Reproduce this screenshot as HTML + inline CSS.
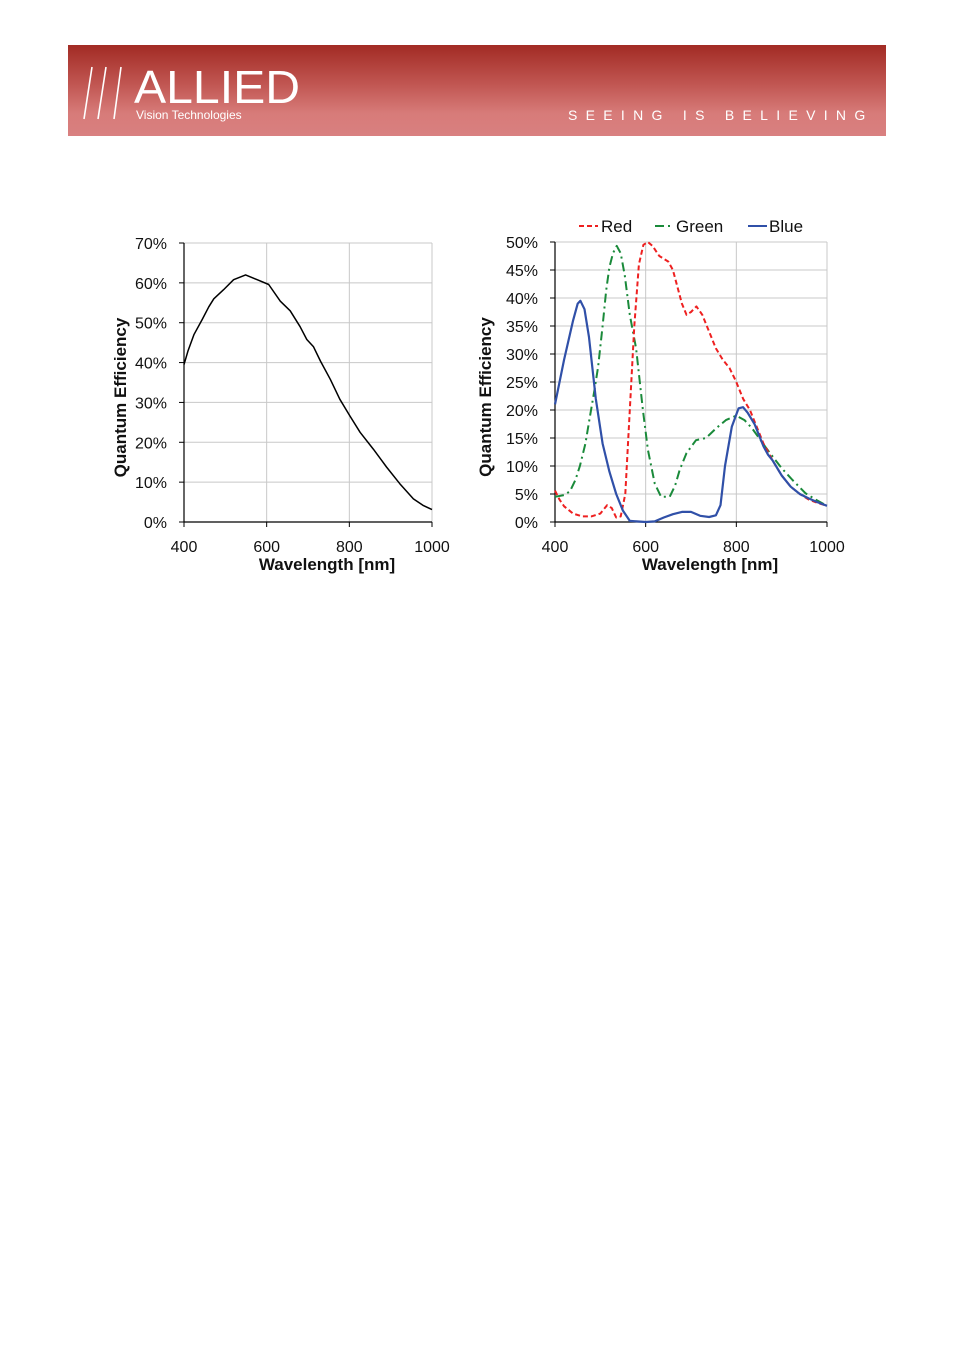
<!DOCTYPE html>
<html><head><meta charset="utf-8">
<style>
body{margin:0;background:#fff;}
#page{position:relative;width:954px;height:1350px;background:#fff;overflow:hidden;font-family:"Liberation Sans",sans-serif;}
#header{position:absolute;left:68px;top:45px;width:818px;height:91px;background:linear-gradient(#a22b24 0%,#c25854 45%,#d77b79 75%,#d98080 100%);}
svg text{font-family:"Liberation Sans",sans-serif;}
</style></head>
<body>
<div id="page">
<div id="header">
  <svg width="818" height="91">
    <g stroke="#fff" stroke-width="1.6" fill="none">
      <line x1="24" y1="22" x2="16" y2="74"/><line x1="38" y1="22" x2="30" y2="74"/><line x1="53" y1="22" x2="46" y2="74"/>
    </g>
    <text x="66" y="58" fill="#fff" font-size="46" textLength="166" lengthAdjust="spacingAndGlyphs">ALLIED</text>
    <text x="68" y="74" fill="#fff" font-size="12">Vision Technologies</text>
    <text x="500" y="75" fill="#fff" font-size="14" letter-spacing="8.3">SEEING IS BELIEVING</text>
  </svg>
</div>
<svg id="charts" width="954" height="620" style="position:absolute;left:0;top:0"></svg>
</div>
<script>
// Left chart data (mono)
const monoWl=[400,410,424,444,460,472,496,520,549,577,605,633,657,681,697,713,730,754,777,801,826,858,890,922,955,978,1000];
const monoQE=[39.5,43,47,50.8,54,56,58.3,60.8,62,60.8,59.6,55.4,53,49,45.8,44,40.4,35.8,30.8,26.7,22.5,18.3,13.8,9.6,5.8,4.2,3.1];
const leftYTicks=[0,10,20,30,40,50,60,70];
const xTicks=[400,600,800,1000];
// Right chart data (color)
const blueWl=[400,420,440,450,456,465,475,490,505,520,535,550,565,600,620,640,660,680,700,720,740,755,765,775,790,805,815,825,840,850,860,870,880,900,920,940,960,980,1000];
const blueQE=[21,29,36,39,39.5,38,33,22,14,9,5,2,0.2,0,0.1,0.8,1.4,1.8,1.8,1.1,0.9,1.2,3,10,17,20.3,20.5,19.5,17.5,15.5,13.5,12,11,8.3,6.3,5,4.2,3.5,2.9];
const redWl=[400,410,420,440,460,480,500,515,525,535,545,555,565,575,585,595,605,615,630,650,660,670,680,690,700,712,725,740,755,770,785,800,815,830,845,860,880,900,920,940,960,980,1000];
const redQE=[5.6,4,2.8,1.5,1,1,1.5,3,2.5,0.8,1,5,20,35,46,49.5,50,49.3,47.5,46.5,45,42,39,37,37.5,38.5,37,34,31,29,27.5,25,22,20,17,14,11,8.3,6.3,5,4,3.4,2.9];
const greenWl=[400,420,433,445,455,467,477,487,495,505,513,520,528,536,545,554,565,579,594,605,620,634,653,665,675,690,711,733,755,777,800,818,835,850,865,880,900,924,953,975,1000];
const greenQE=[4.5,4.8,5.5,7.5,10,14,18.8,23.5,27.7,35,41.4,45.5,48,49.3,48,44,37,31,20,12.9,6.9,4.5,4.5,6.5,9.3,12.3,14.6,15,16.7,18.2,19,18.2,16.7,15,13.3,11.7,9.6,7.5,5.1,4,2.9];
const rightYTicks=[0,5,10,15,20,25,30,35,40,45,50];

const NS='http://www.w3.org/2000/svg';
const svg=document.getElementById('charts');
function mk(tag,attrs,parent){const e=document.createElementNS(NS,tag);for(const k in attrs)e.setAttribute(k,attrs[k]);(parent||svg).appendChild(e);return e;}

function chart(cfg){
  const g=mk('g',{});
  
  
  const xs=v=>cfg.x0+(v-400)/600*(cfg.x1-cfg.x0);
  const ys=v=>cfg.y0-(v/cfg.ymax)*(cfg.y0-cfg.y1);
  cfg.yTicks.forEach(t=>{
    if(t>0){const l=mk('line',{x1:cfg.x0,x2:cfg.x1,y1:ys(t),y2:ys(t),stroke:'#c8c8c8','stroke-width':1},g);
    }
    const tk=mk('line',{x1:cfg.x0-5,x2:cfg.x0,y1:ys(t),y2:ys(t),stroke:'#000'},g);
    
    const tx=mk('text',{x:cfg.x0-17,y:ys(t)+6,'text-anchor':'end','font-size':16,fill:'#111'},g);
    tx.textContent=t+'%';
    
  });
  xTicks.forEach(t=>{
    if(t>400){const l=mk('line',{x1:xs(t),x2:xs(t),y1:cfg.y1,y2:cfg.y0,stroke:'#c8c8c8'},g);
    }
    const tk=mk('line',{x1:xs(t),x2:xs(t),y1:cfg.y0,y2:cfg.y0+5,stroke:'#000'},g);
    
    const tx=mk('text',{x:xs(t),y:cfg.y0+30,'text-anchor':'middle','font-size':16,fill:'#111'},g);
    tx.textContent=t;
    
  });
  const ax=mk('path',{d:`M${cfg.x0},${cfg.y1}V${cfg.y0}H${cfg.x1}`,stroke:'#000',fill:'none','stroke-width':1.2},g);
  
  const xt=mk('text',{x:(cfg.x0+cfg.x1)/2+19,y:cfg.y0+48,'text-anchor':'middle','font-size':17,'font-weight':'bold',fill:'#111'},g);
  xt.textContent='Wavelength [nm]';
  
  const cy=(cfg.y0+cfg.y1)/2+15;
  const yt=mk('text',{x:cfg.yTitleX,y:cy,'text-anchor':'middle','font-size':17,'font-weight':'bold',fill:'#111',transform:`rotate(-90 ${cfg.yTitleX} ${cy})`},g);
  yt.textContent='Quantum Efficiency';
  
  cfg.series.forEach(s=>{
    const pts=s.wl.map((w,i)=>xs(w).toFixed(1)+','+ys(s.qe[i]).toFixed(1)).join(' ');
    const p=mk('polyline',{points:pts,fill:'none',stroke:s.color,'stroke-width':s.w,'stroke-linejoin':'round','stroke-linecap':'butt'},g);
    if(s.dash)p.setAttribute('stroke-dasharray',s.dash);
    
  });
}
chart({name:'mono-qe-chart',x0:184,x1:432,y0:522,y1:243,ymax:70,yTicks:leftYTicks,yTitleX:126,
  series:[{name:'mono-qe-line',wl:monoWl,qe:monoQE,color:'#000',w:1.5}]});
chart({name:'color-qe-chart',x0:555,x1:827,y0:522,y1:242,ymax:50,yTicks:rightYTicks,yTitleX:491,
  series:[
   {name:'green-line',wl:greenWl,qe:greenQE,color:'#1a8a3a',w:2,dash:'9,4,2,4'},
   {name:'red-line',wl:redWl,qe:redQE,color:'#ee2020',w:2,dash:'5,3'},
   {name:'blue-line',wl:blueWl,qe:blueQE,color:'#3050a8',w:2.2}]});
// legend
const leg=[['Red','#ee2020','5,3',579,601],['Green','#1a8a3a','9,4,2,4',655,676],['Blue','#3050a8','',748,769]];
leg.forEach(l=>{
  const gg=mk('g',{});
  
  
  const ln=mk('line',{x1:l[3],x2:l[3]+19,y1:226,y2:226,stroke:l[1],'stroke-width':2},gg);
  if(l[2])ln.setAttribute('stroke-dasharray',l[2]);
  const t=mk('text',{x:l[4],y:232,'font-size':17,fill:'#111'},gg);t.textContent=l[0];
});
</script>
</body></html>
